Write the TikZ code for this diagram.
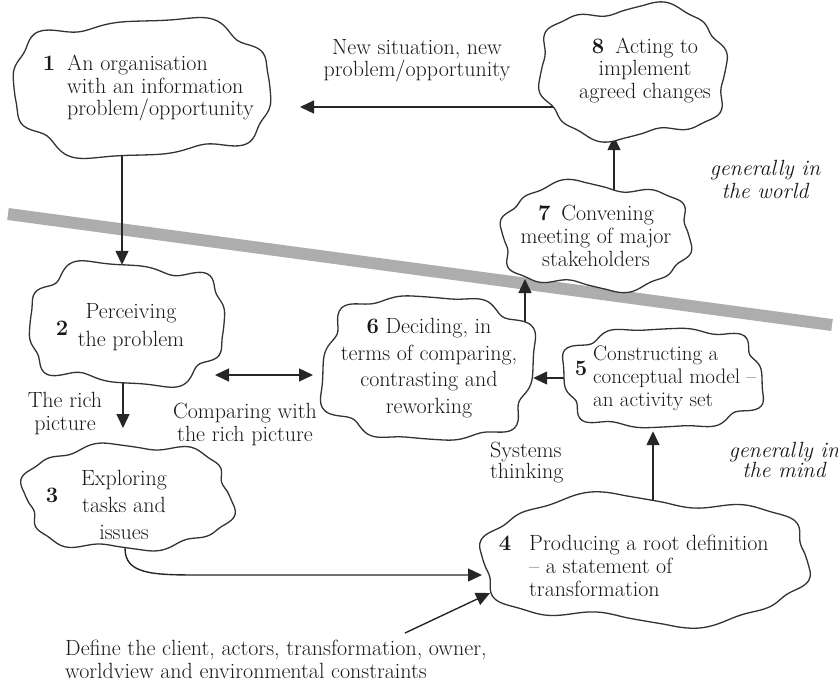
\documentclass[tikz,border=0pt]{standalone}
\usetikzlibrary{arrows.meta}

% Cloud outline: a rounded superellipse with a wavy rim.
% #1 name, #2 cx, #3 cy, #4 rx, #5 ry, #6-#8 wobble amplitudes
\newcommand\drawcloud[8]{%
  \path[cloudline] plot[smooth cycle, domain=0:357, samples=120, variable=\t]
    ({#2+#4*cos(\t)*pow(abs(cos(\t))+0.001,-0.27)+(#6*sin(4*\t)+#7*sin(6*\t)+#8*sin(10*\t))*cos(\t)},
     {#3+#5*sin(\t)*pow(abs(sin(\t))+0.001,-0.27)+(#6*sin(4*\t)+#7*sin(6*\t)+#8*sin(10*\t))*sin(\t)});
}

\begin{document}
\begin{tikzpicture}[x=1pt,y=-1pt,
  font=\fontsize{22}{23}\selectfont,
  txt/.style={text=black!90, inner sep=0pt, align=center},
  cloudnode/.style={inner sep=0pt, draw=none},
  cloudline/.style={draw=black!80, line width=1.3pt, fill=white, line join=round},
  conn/.style={draw=black!85, line width=1.4pt, -{Triangle[length=14pt,width=13pt]}},
  twoway/.style={draw=black!85, line width=1.4pt, {Triangle[length=14pt,width=13pt]}-{Triangle[length=14pt,width=13pt]}},
  band/.style={line width=12pt, draw=black!32}]

\useasboundingbox (0,0) rectangle (838,681);

% boundary band between "world" and "mind"
\coordinate (bandL) at (8,214);
\coordinate (bandR) at (832,325);
\draw[band] (bandL) -- (bandR);

% invisible cloud nodes (for connectors); outlines are drawn later
\node[cloudnode, minimum width=256, minimum height=134] (c1) at (142,88) {};
\node[cloudnode, minimum width=194, minimum height=118] (c2) at (127,324) {};
\node[cloudnode, minimum width=204, minimum height=102] (c3) at (128,497) {};
\node[cloudnode, minimum width=210, minimum height=142] (c6) at (428,368) {};
\node[cloudnode, minimum width=198, minimum height=98] (c5) at (663,378) {};
\node[cloudnode, minimum width=186, minimum height=102] (c7) at (596,236) {};
\node[cloudnode, minimum width=184, minimum height=128] (c8) at (633,72) {};
\node[cloudnode, minimum width=324, minimum height=122] (c4) at (645,560) {};

% connector guide coordinates
\coordinate (a12) at (122,0);
\coordinate (a23) at (123,428);
\coordinate (a34) at (125,0);
\coordinate (k34) at (200,575);
\coordinate (e34) at (482,575);
\coordinate (a45) at (653,0);
\coordinate (a67) at (525,279);
\coordinate (a78) at (614,0);
\coordinate (a81) at (300,107);
\coordinate (cmpL) at (215,375);
\coordinate (cmpR) at (313,375);
\coordinate (dstart) at (405,633);
\coordinate (dend) at (490,593);

% connectors (their starts are hidden under the cloud fills)
\draw[conn] (c1 -| a12) -- (c2.north -| a12);
\draw[conn] (c2 -| a23) -- (a23);
\draw[conn] (c3 -| a34) -- (c3.south -| a34) .. controls +(0,26) and +(-48,0) .. (k34) -- (e34);
\draw[conn, shorten >=4pt] (c4 -| a45) -- (c5.south -| a45);
\draw[conn] (c5) -- (c6.east |- c5);
\draw[conn] (c6 -| a67) -- (a67);
\draw[conn] (c7 -| a78) -- (c8.south -| a78);
\draw[conn] (c8 |- a81) -- (a81);
\draw[twoway] (cmpL) -- (cmpR);
\draw[conn] (dstart) -- (dend);

% cloud outlines
\drawcloud{o1}{142}{88}{128}{67}{3}{-3.5}{2.5}
\drawcloud{o2}{127}{324}{97}{59}{-3}{4}{-2.5}
\drawcloud{o3}{128}{497}{102}{51}{2.5}{3}{2.5}
\drawcloud{o6}{428}{368}{105}{71}{-3}{-4}{3}
\drawcloud{o5}{663}{378}{99}{49}{2}{3.5}{-2.5}
\drawcloud{o7}{596}{236}{93}{51}{-2}{3}{2.5}
\drawcloud{o8}{633}{72}{92}{64}{3}{-3}{-2.5}
\drawcloud{o4}{645}{560}{162}{61}{-2.5}{4}{3}

% cloud texts
\node[txt, anchor=west, align=left, font=\fontsize{22}{22.5}\selectfont] (t1) at (67,88)
  {\llap{\textbf{1}\hspace{12pt}}An organisation\\with an information\\problem/opportunity};
\node[txt, font=\fontsize{22}{28}\selectfont] (t2) at (131,327) {Perceiving\\the problem};
\node[txt] (n2) at (62,328) {\textbf{2}};
\node[txt, font=\fontsize{22}{27}\selectfont] (t3) at (124,505) {Exploring\\tasks and\\issues};
\node[txt] (n3) at (52,495) {\textbf{3}};
\node[txt, anchor=west, align=left] (t4) at (529,566)
  {\llap{\textbf{4}\hspace{18pt}}Producing a root definition\\– a statement of\\transformation};
\node[txt, anchor=west, align=left, font=\fontsize{21}{23}\selectfont] (t5) at (593,378)
  {Constructing a\\conceptual model –\\an activity set};
\node[txt] (n5) at (581,368) {\textbf{5}};
\node[txt, font=\fontsize{22}{26.5}\selectfont] (t6) at (429,368)
  {\textbf{6} Deciding, in\\terms of comparing,\\contrasting and\\reworking};
\node[txt] (t7) at (596,236) {\textbf{7}\enspace Convening\\meeting of major\\stakeholders};
\node[txt, font=\fontsize{22}{22.5}\selectfont] (t8) at (645,70)
  {\textbf{8}\enspace Acting to\\implement\\agreed changes};

% free labels
\node[txt, font=\fontsize{22}{22}\selectfont] (l81) at (417,61) {New situation, new\\problem/opportunity};
\node[txt, font=\fontsize{22}{23}\selectfont\itshape] (lworld) at (765,179) {generally in\\the world};
\node[txt] (lrich) at (65,414) {The rich\\picture};
\node[txt] (lcomp) at (245,424) {Comparing with\\the rich picture};
\node[txt, anchor=west, align=left, font=\fontsize{22}{21}\selectfont] (lsys) at (490,463) {Systems\\thinking};
\node[txt, font=\fontsize{22}{20}\selectfont\itshape] (lmind) at (784,460) {generally in\\the mind};
\node[txt, anchor=west, align=left] (ldef) at (65,659)
  {Define the client, actors, transformation, owner,\\worldview and environmental constraints};

\end{tikzpicture}
\end{document}
